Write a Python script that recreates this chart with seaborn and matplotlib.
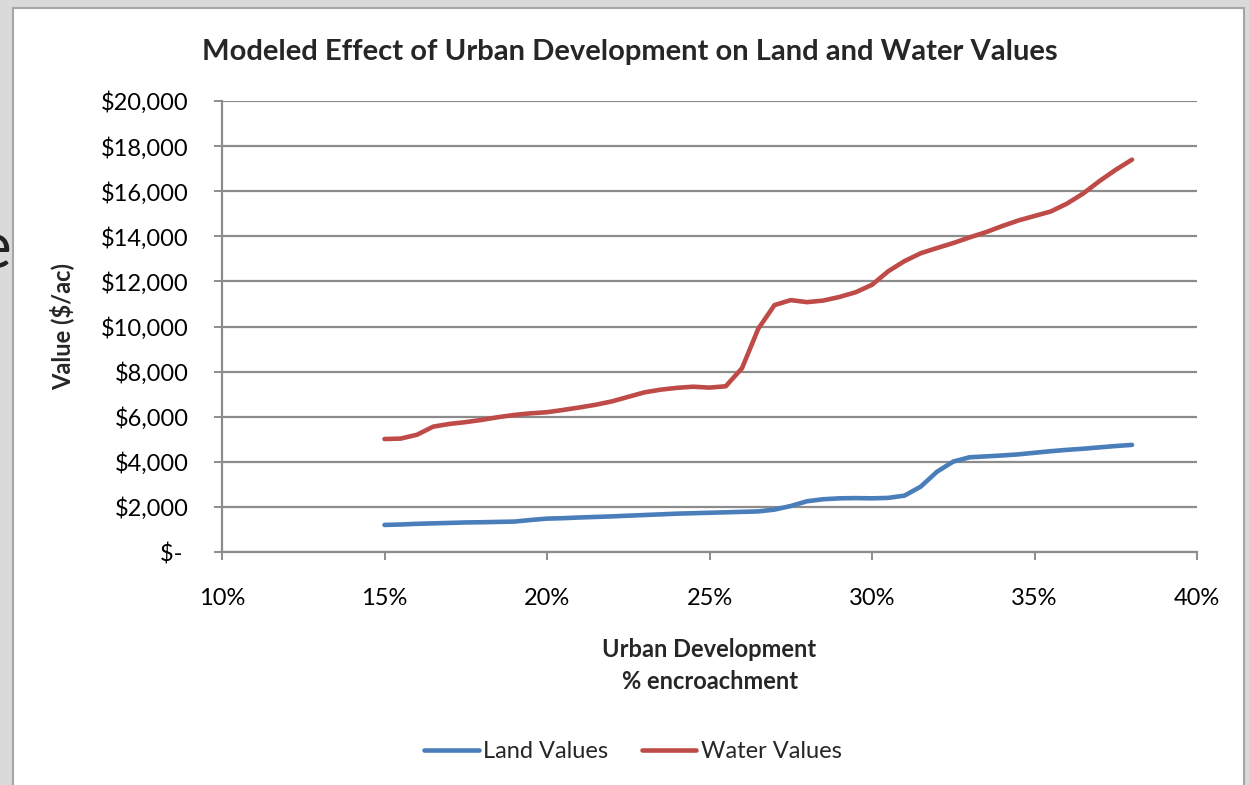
import numpy as np
import pandas as pd
import seaborn as sns
import matplotlib.pyplot as plt
from matplotlib.patches import Rectangle
from matplotlib.ticker import FuncFormatter, MultipleLocator

# values, every half percent of encroachment
encroachment = [15.0, 15.5, 16.0, 16.5, 17.0, 17.5, 18.0, 18.5, 19.0, 19.5,
                20.0, 20.5, 21.0, 21.5, 22.0, 22.5, 23.0, 23.5, 24.0, 24.5,
                25.0, 25.5, 26.0, 26.5, 27.0, 27.5, 28.0, 28.5, 29.0, 29.5,
                30.0, 30.5, 31.0, 31.5, 32.0, 32.5, 33.0, 33.5, 34.0, 34.5,
                35.0, 35.5, 36.0, 36.5, 37.0, 37.5, 38.0]

land_values = [1200, 1220, 1250, 1270, 1290, 1310, 1320, 1335, 1350, 1420,
               1480, 1500, 1530, 1555, 1580, 1610, 1640, 1670, 1700, 1720,
               1740, 1760, 1780, 1800, 1880, 2040, 2250, 2340, 2380, 2390,
               2380, 2400, 2500, 2900, 3560, 4010, 4200, 4240, 4280, 4330,
               4400, 4470, 4530, 4580, 4640, 4700, 4750]

water_values = [5010, 5030, 5200, 5560, 5680, 5760, 5860, 5980, 6080, 6150,
                6200, 6300, 6410, 6530, 6680, 6880, 7080, 7200, 7280, 7330,
                7290, 7350, 8150, 9900, 10950, 11170, 11080, 11150, 11310, 11520,
                11850, 12450, 12900, 13250, 13480, 13700, 13950, 14180, 14450, 14700,
                14900, 15100, 15450, 15900, 16450, 16950, 17400]

series_names = ['Land Values', 'Water Values']
series_colors = ['#4a7ebb', '#be4b48']

y_ticks = list(range(0, 20001, 2000))
x_ticks = [10, 15, 20, 25, 30, 35, 40]

df = pd.DataFrame({'pct': encroachment,
                   'Land Values': land_values,
                   'Water Values': water_values})
long_df = df.melt(id_vars='pct', var_name='series', value_name='value')

sns.set_theme(style='white')
plt.rcParams['font.family'] = ['Lato', 'DejaVu Sans']

W, H = 1249, 785
fig = plt.figure(figsize=(W / 100, H / 100), dpi=100, facecolor='#dadada')

# white chart area with thin border (screenshot frame)
fig.patches.append(Rectangle((13 / W, -0.05), 1231 / W, 1 - 8 / H + 0.05,
                             transform=fig.transFigure, facecolor='white',
                             edgecolor='#a6a6a6', lw=1.5, zorder=-5))
# clipped letter from the slide behind
fig.text(11 / W, 1 - 250 / H, 'e', fontsize=46, ha='right', va='center',
         color='#222222', zorder=5)

ax = fig.add_axes([222 / W, 1 - 552 / H, 975 / W, 451 / H])
ax.set_facecolor('white')

sns.lineplot(data=long_df, x='pct', y='value', hue='series',
             hue_order=series_names, palette=series_colors,
             linewidth=3.3, ax=ax, legend=False, zorder=3)
for ln in ax.lines:
    ln.set_solid_joinstyle('round')
    ln.set_solid_capstyle('round')

ax.set_xlim(10, 40)
ax.set_ylim(0, 20000)
ax.set_xticks(x_ticks)
ax.set_yticks(y_ticks)
ax.xaxis.set_major_formatter(FuncFormatter(lambda v, p: f'{v:.0f}%'))
ax.yaxis.set_major_formatter(
    FuncFormatter(lambda v, p: '$- ' if v == 0 else f'${v:,.0f}'))

ax.yaxis.grid(True, color='#8c8c8c', lw=1.6)
ax.set_axisbelow(True)
for s in ['top', 'right']:
    ax.spines[s].set_visible(False)
for s in ['left', 'bottom']:
    ax.spines[s].set_color('#8c8c8c')
    ax.spines[s].set_linewidth(1.6)

ax.tick_params(axis='both', which='major', labelsize=17, colors='#8c8c8c',
               labelcolor='black', width=1.4, length=6, direction='out',
               left=True, bottom=True)
ax.tick_params(axis='y', pad=18)
ax.tick_params(axis='x', pad=20)

ax.set_xlabel('Urban Development\n% encroachment', fontsize=17,
              fontweight='bold', linespacing=1.5)
ax.xaxis.set_label_coords(0.5, -0.19)
ax.set_ylabel('Value ($/ac)', fontsize=17, fontweight='bold')
ax.yaxis.set_label_coords(-0.152, 0.5)

fig.text(630 / W, 1 - 52 / H,
         'Modeled Effect of Urban Development on Land and Water Values',
         fontsize=21, fontweight='bold', ha='center', va='center')

fig.legend(handles=ax.lines[:2], labels=series_names, loc='center',
           bbox_to_anchor=(633 / W, 1 - 752 / H), ncol=2, frameon=False,
           fontsize=17, handlelength=2.3, handletextpad=0.2,
           columnspacing=1.4)

fig.savefig('out.png', dpi=100, facecolor=fig.get_facecolor())
